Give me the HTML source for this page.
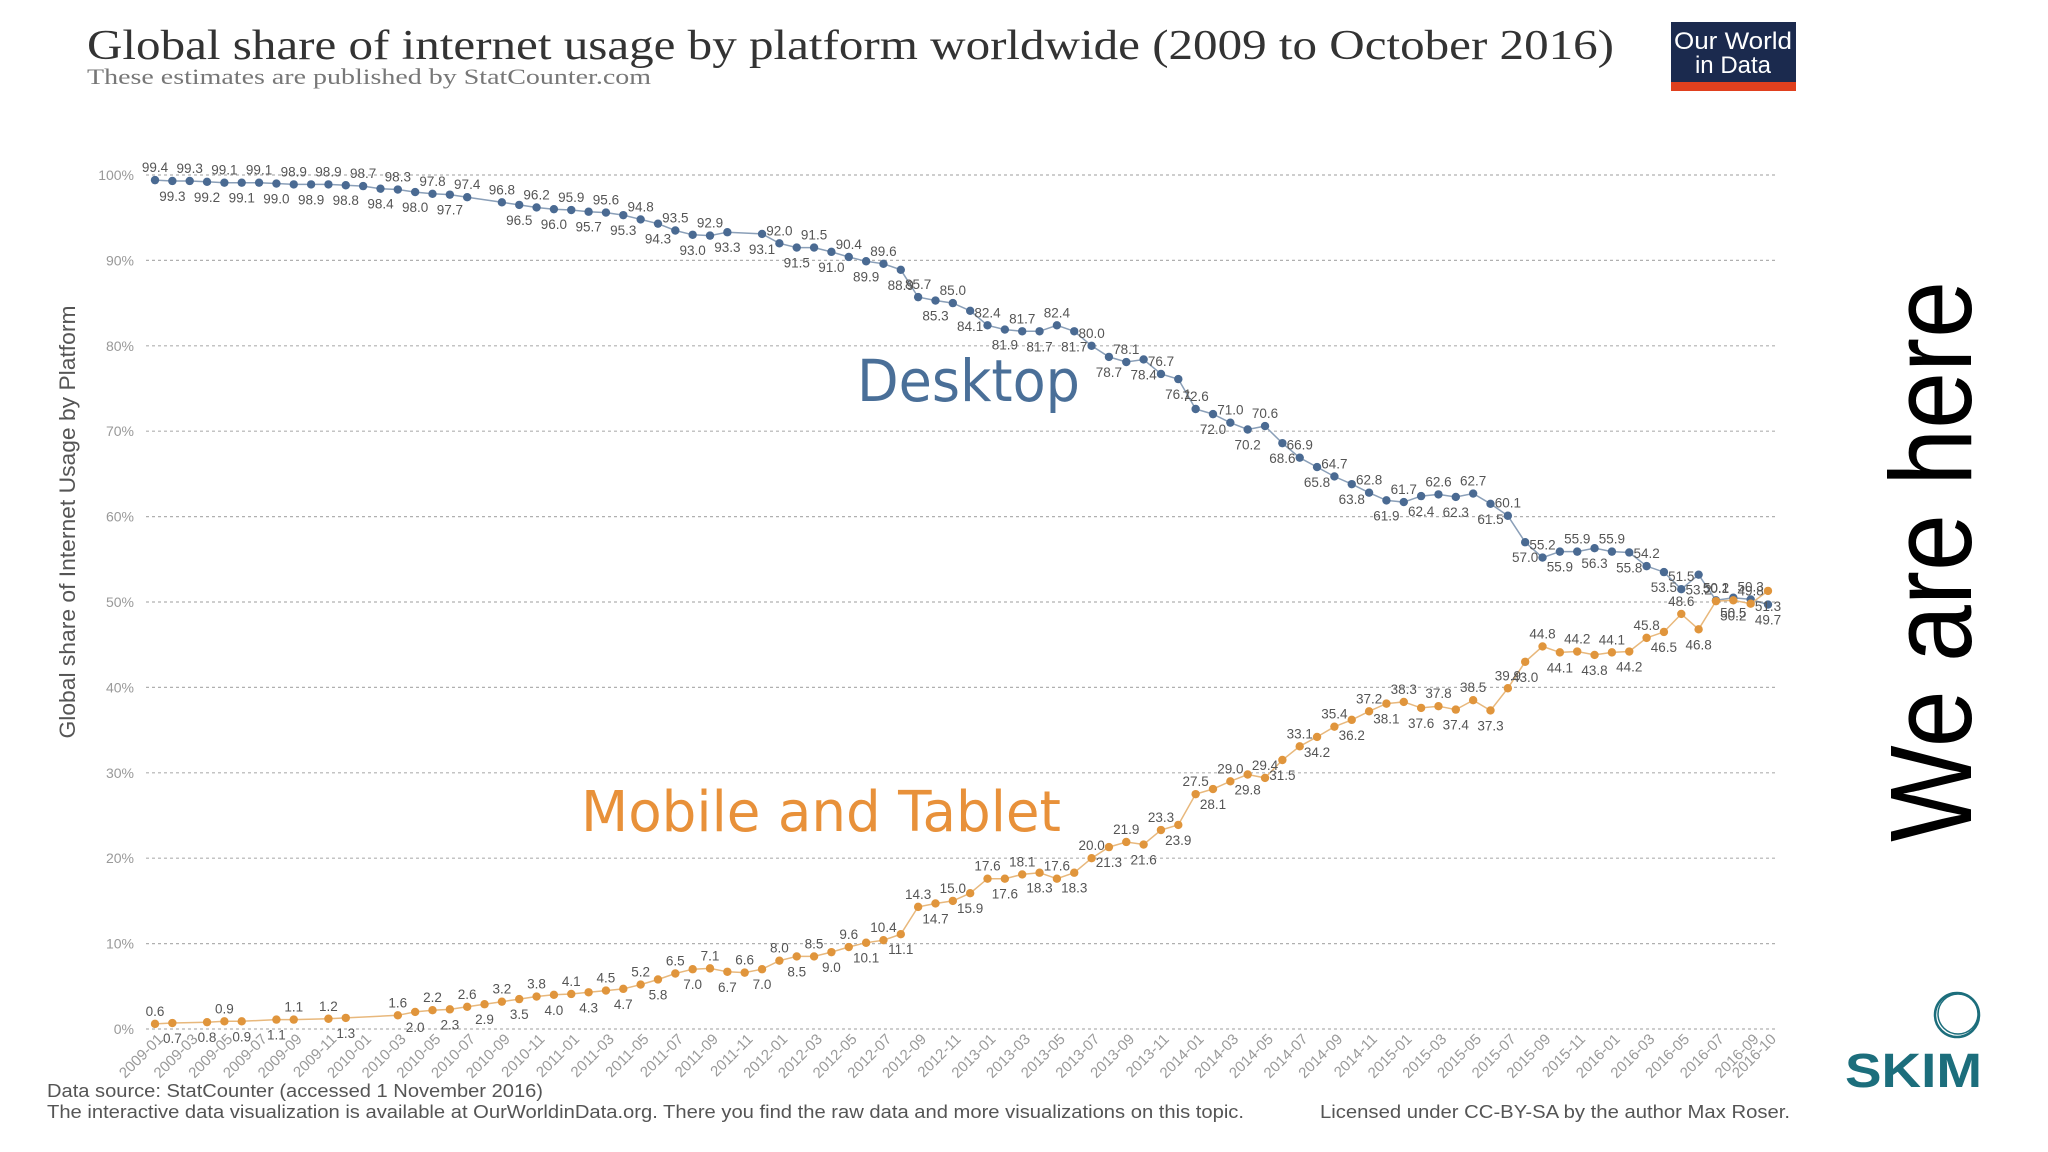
<!DOCTYPE html>
<html><head><meta charset="utf-8"><style>
html,body{margin:0;padding:0;background:#fff;}
svg{display:block;}
</style></head><body>
<svg id="chart" width="2048" height="1152" viewBox="0 0 2048 1152" xmlns="http://www.w3.org/2000/svg">
<text x="87" y="59" font-family="Liberation Serif, serif" font-size="42" fill="#333" textLength="1527" lengthAdjust="spacingAndGlyphs">Global share of internet usage by platform worldwide (2009 to October 2016)</text>
<text x="87" y="84" font-family="Liberation Serif, serif" font-size="22" fill="#777" textLength="564" lengthAdjust="spacingAndGlyphs">These estimates are published by StatCounter.com</text>
<g>
<rect x="1671" y="22" width="125" height="69" fill="#1b2a4e"/>
<rect x="1671" y="82" width="125" height="9" fill="#e0401e"/>
<text x="1733" y="49" text-anchor="middle" font-family="Liberation Sans, sans-serif" font-size="24" fill="#fff" textLength="118" lengthAdjust="spacingAndGlyphs">Our World</text>
<text x="1733" y="73" text-anchor="middle" font-family="Liberation Sans, sans-serif" font-size="24" fill="#fff">in Data</text>
</g>
<g id="grid"></g>
<g id="yticks"></g>
<g id="xticks"></g>
<text transform="translate(75,522) rotate(-90)" text-anchor="middle" font-family="Liberation Sans, sans-serif" font-size="22" fill="#555" textLength="433" lengthAdjust="spacingAndGlyphs">Global share of Internet Usage by Platform</text>
<g id="series"></g>
<text x="857" y="401" font-family="DejaVu Sans, sans-serif" font-size="58" fill="#4a6f98" textLength="223" lengthAdjust="spacingAndGlyphs">Desktop</text>
<text x="581" y="831" font-family="DejaVu Sans, sans-serif" font-size="56" fill="#e8913a" textLength="480" lengthAdjust="spacingAndGlyphs">Mobile and Tablet</text>
<text transform="translate(1971,842) rotate(-90)" font-family="Liberation Sans, sans-serif" font-size="116" fill="#000" textLength="561" lengthAdjust="spacingAndGlyphs">We are here</text>
<g>
<circle cx="1957" cy="1015" r="22" fill="none" stroke="#1c6e7c" stroke-width="2.5"/>
<circle cx="1958" cy="1014" r="20" fill="none" stroke="#1c6e7c" stroke-width="1.5"/>
<text x="1845" y="1087" font-family="Liberation Sans, sans-serif" font-weight="bold" font-size="48" fill="#1c6e7c" textLength="137" lengthAdjust="spacingAndGlyphs">SKIM</text>
</g>
<text x="47" y="1097" font-family="Liberation Sans, sans-serif" font-size="18" fill="#555" textLength="496" lengthAdjust="spacingAndGlyphs">Data source: StatCounter (accessed 1 November 2016)</text>
<text x="47" y="1118" font-family="Liberation Sans, sans-serif" font-size="18" fill="#555" textLength="1197" lengthAdjust="spacingAndGlyphs">The interactive data visualization is available at OurWorldinData.org. There you find the raw data and more visualizations on this topic.</text>
<text x="1320" y="1118" font-family="Liberation Sans, sans-serif" font-size="18" fill="#555" textLength="470" lengthAdjust="spacingAndGlyphs">Licensed under CC-BY-SA by the author Max Roser.</text>
</svg>
<script>
const startYear = 2009;
const monthCount = 94;
const yTicks = [0,10,20,30,40,50,60,70,80,90,100];
const desktop = [99.4,99.3,99.3,99.2,99.1,99.1,99.1,99.0,98.9,98.9,98.9,98.8,98.7,98.4,98.3,98.0,97.8,97.7,97.4,
null,96.8,96.5,96.2,96.0,95.9,95.7,95.6,95.3,94.8,94.3,93.5,93.0,92.9,93.3,
null,93.1,92.0,91.5,91.5,91.0,90.4,89.9,89.6,88.9,85.7,85.3,85.0,84.1,
82.4,81.9,81.7,81.7,82.4,81.7,80.0,78.7,78.1,78.4,76.7,76.1,
72.6,72.0,71.0,70.2,70.6,68.6,66.9,65.8,64.7,63.8,62.8,61.9,61.7,62.4,62.6,62.3,62.7,61.5,60.1,57.0,55.2,55.9,55.9,
56.3,55.9,55.8,54.2,53.5,51.5,53.2,50.2,50.5,50.3,49.7];
const mobile = [0.6,0.7,null,0.8,0.9,0.9,null,1.1,1.1,null,1.2,1.3,null,null,
1.6,2.0,2.2,2.3,2.6,2.9,3.2,3.5,3.8,4.0,4.1,4.3,4.5,4.7,5.2,5.8,6.5,7.0,7.1,6.7,6.6,7.0,8.0,8.5,8.5,9.0,9.6,10.1,10.4,11.1,
14.3,14.7,15.0,15.9,17.6,17.6,18.1,18.3,17.6,18.3,20.0,21.3,21.9,21.6,23.3,23.9,
27.5,28.1,29.0,29.8,29.4,31.5,33.1,34.2,35.4,36.2,37.2,38.1,38.3,37.6,37.8,37.4,38.5,37.3,39.9,43.0,44.8,44.1,44.2,
43.8,44.1,44.2,45.8,46.5,48.6,46.8,50.1,50.2,49.8,51.3];

const NS = 'http://www.w3.org/2000/svg';
const X0 = 155, X1 = 1768, Y0 = 1029, Y1 = 175;
function xs(i){ return X0 + i*(X1-X0)/(monthCount-1); }
function ys(v){ return Y0 - v/100*(Y0-Y1); }
function mk(tag, attrs, parent){ const e=document.createElementNS(NS,tag); for(const k in attrs) e.setAttribute(k,attrs[k]); parent.appendChild(e); return e; }
function monthLabel(i){ const y=startYear+Math.floor(i/12), m=i%12+1; return y+'-'+(m<10?'0':'')+m; }

const grid=document.getElementById('grid'), yt=document.getElementById('yticks'), xt=document.getElementById('xticks');
yTicks.forEach(t=>{
  const l=mk('line',{x1:146,x2:1778,y1:ys(t),y2:ys(t),stroke:'#b0b0b0','stroke-width':1.2,'stroke-dasharray':'3,3'},grid);
  
  
  const tx=mk('text',{x:134,y:ys(t)+5,'text-anchor':'end','font-family':'Liberation Sans, sans-serif','font-size':14,fill:'#999'},yt);
  tx.textContent=t+'%';
  
  
});
for(let i=0;i<monthCount;i++){
  if(i%2!==0 && i!==monthCount-1) continue;
  const x=xs(i)+9, y=1040;
  const tx=mk('text',{x:x,y:y,transform:'rotate(-45 '+x+' '+y+')','text-anchor':'end','font-family':'Liberation Sans, sans-serif','font-size':15,fill:'#999'},xt);
  tx.textContent=monthLabel(i);
  
  
}
const series=document.getElementById('series');
function draw(vals, name, lineColor, dotColor){
  const g=mk('g',{},series);
  
  
  let d='';
  vals.forEach((v,i)=>{ if(v===null) return; d+=(d?'L':'M')+xs(i).toFixed(1)+' '+ys(v).toFixed(1); });
  const p=mk('path',{d:d,fill:'none',stroke:lineColor,'stroke-width':1.5},g);
  
  
  vals.forEach((v,i)=>{
    if(v===null) return;
    const c=mk('circle',{cx:xs(i),cy:ys(v),r:4.2,fill:dotColor},g);
    
    
    const above=(i%2===0);
    const t=mk('text',{x:xs(i),y:ys(v)+(above?-8:20),'text-anchor':'middle','font-family':'Liberation Sans, sans-serif','font-size':13.5,fill:'#555'},g);
    t.textContent=v.toFixed(1);
    
    
  });
}
draw(desktop,'desktop','#8a9fb8','#4a6a92');
draw(mobile,'mobile','#e8b87c','#e0953c');
</script>
</body></html>
